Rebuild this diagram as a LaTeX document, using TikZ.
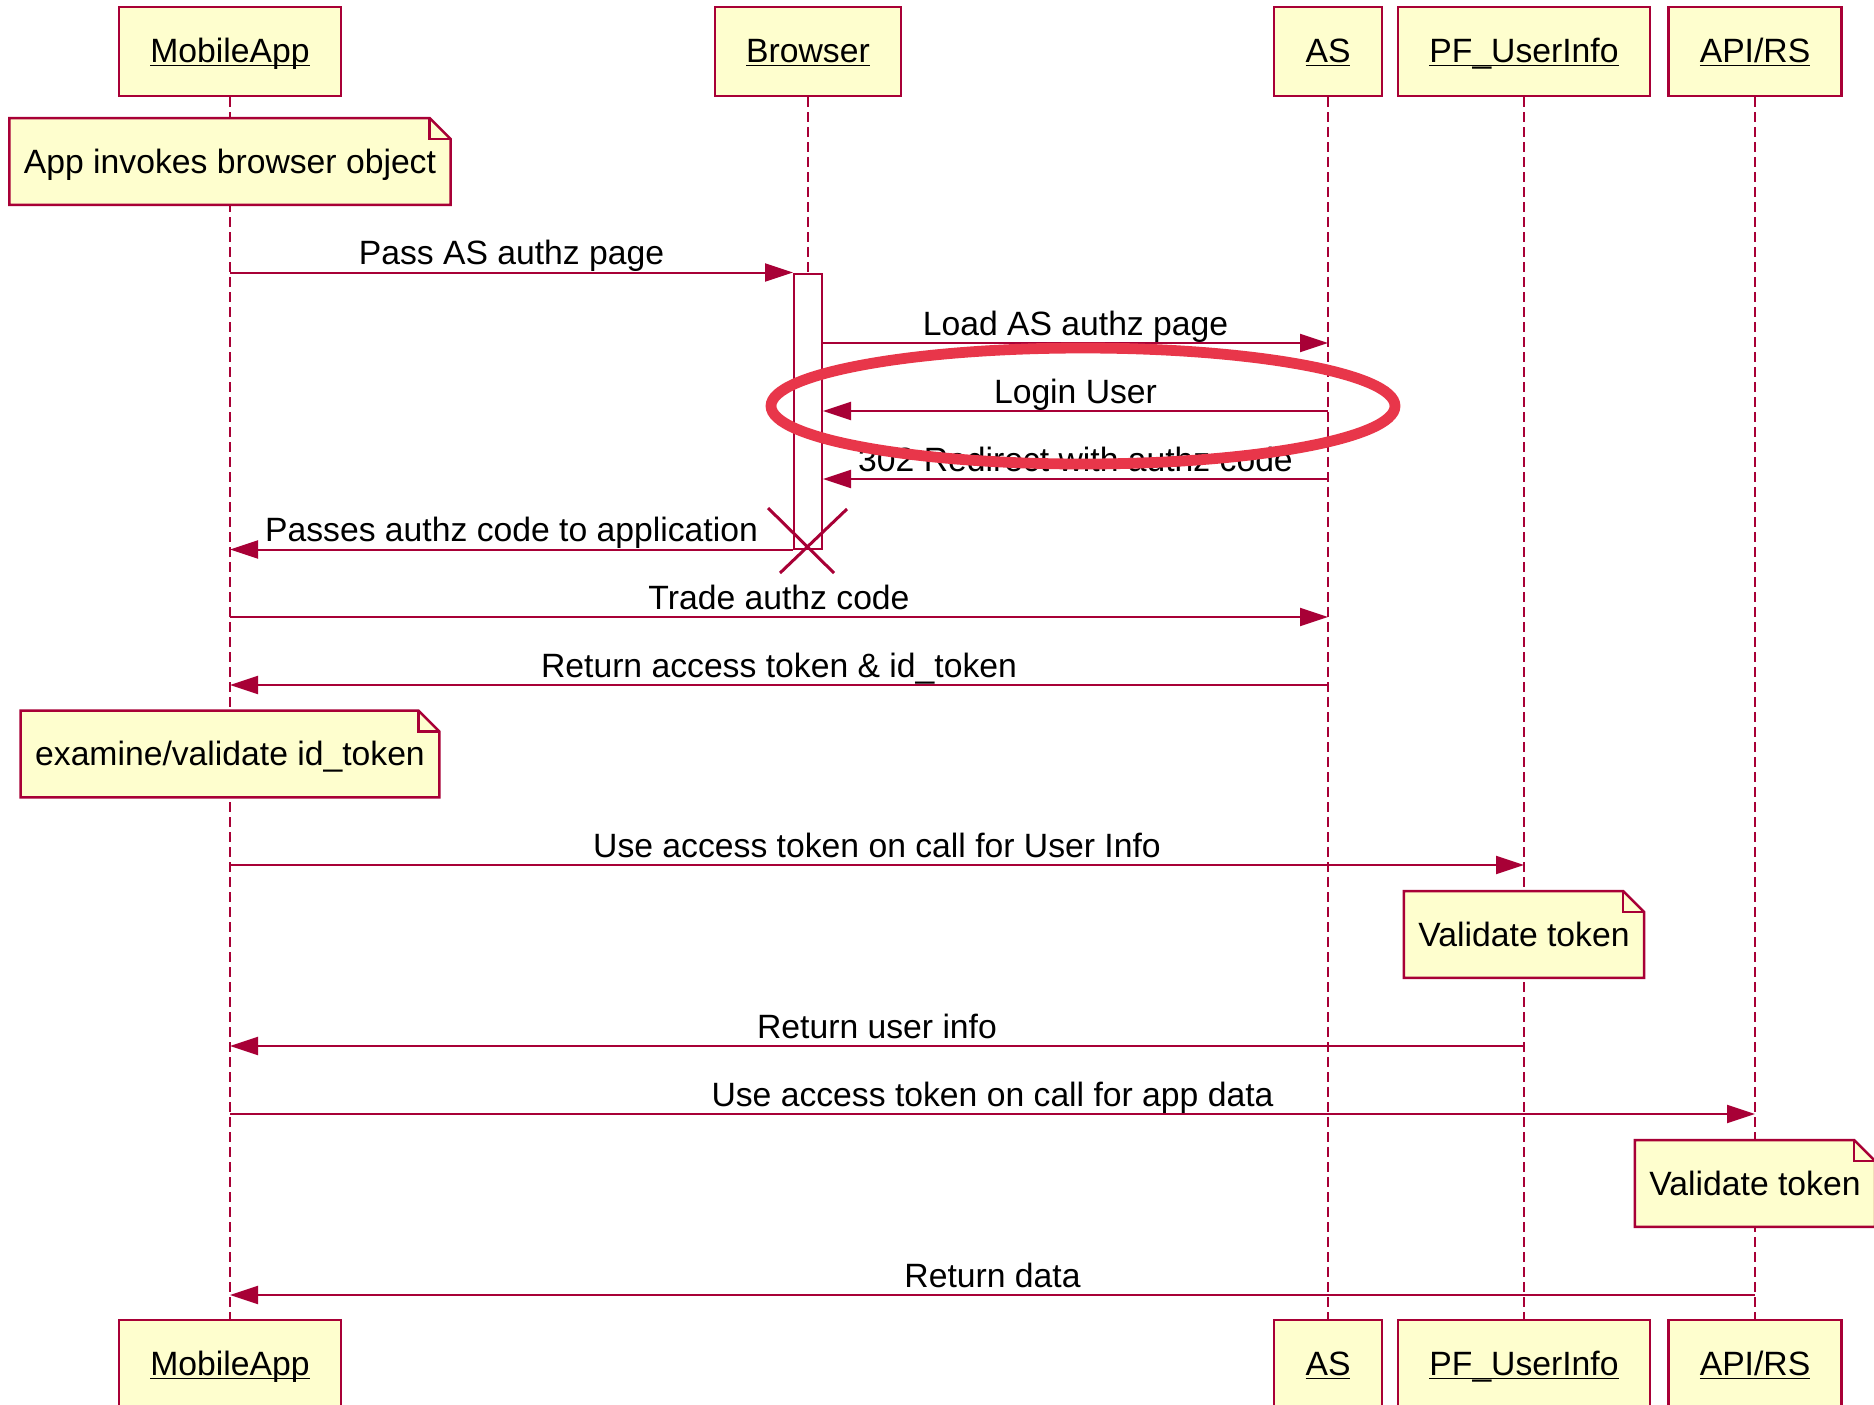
\documentclass[tikz,border=0pt]{standalone}
\usepackage{fontspec}
\setmainfont{Liberation Sans}
\usepackage{xcolor}
\usepackage{tikz}
\usetikzlibrary{
  arrows.meta,
  positioning,
  calc
}
\definecolor{SeqBorder}{HTML}{A80036}
\definecolor{SeqFill}{HTML}{FEFECE}
\definecolor{MarkRed}{HTML}{E8364A}
\newcommand{\ulname}[1]{%
  \setbox0\hbox{#1}\rlap{\rule[-2.2pt]{\wd0}{0.9pt}}\box0}
\tikzset{
  participant/.style={
    draw=SeqBorder,
    fill=SeqFill,
    line width=1.25pt,
    inner xsep=15.7pt,
    inner ysep=0pt,
    text height=12.5pt,
    text depth=2pt,
    minimum height=44.5pt
  },
  lifeline/.style={
    draw=SeqBorder,
    line width=1pt,
    dash pattern=on 5pt off 2.5pt
  },
  note/.style={
    fill=SeqFill,
    inner xsep=7.1pt,
    inner ysep=0pt,
    text height=12.5pt,
    text depth=1pt,
    minimum height=43pt
  },
  noteline/.style={
    draw=SeqBorder,
    line width=1.25pt
  },
  actbar/.style={
    draw=SeqBorder,
    fill=white,
    line width=1pt,
    minimum width=14pt,
    minimum height=137.5pt,
    inner sep=0pt
  },
  message/.style={
    -{Triangle[length=14pt,width=9pt]},
    draw=SeqBorder,
    line width=1pt
  },
  msglabel/.style={
    anchor=base,
    inner sep=0pt,
    yshift=4pt
  },
  destroy/.style={
    draw=SeqBorder,
    line width=1.5pt
  },
  highlight/.style={
    draw=MarkRed,
    line width=5.4pt
  }
}

\begin{document}
\begin{tikzpicture}[
  x=0.5pt,
  y=-0.5pt,
  font=\fontsize{16.85pt}{20pt}\selectfont
]

  \useasboundingbox (0,0) rectangle (1874,1404);

  % participants, top and bottom
  \node[participant] (app) at (230,51.5) {\ulname{MobileApp}};
  \node[participant] (browser) at (808,51.5) {\ulname{Browser}};
  \node[participant] (as) at (1328,51.5) {\ulname{AS}};
  \node[participant] (pf) at (1524,51.5) {\ulname{PF\_UserInfo}};
  \node[participant] (api) at (1755,51.5) {\ulname{API/RS}};

  \node[participant] (appB) at (230,1364.5) {\ulname{MobileApp}};
  \node[participant] (asB) at (1328,1364.5) {\ulname{AS}};
  \node[participant] (pfB) at (1524,1364.5) {\ulname{PF\_UserInfo}};
  \node[participant] (apiB) at (1755,1364.5) {\ulname{API/RS}};

  % lifelines
  \draw[lifeline] (app) -- (appB);
  \draw[lifeline] (as) -- (asB);
  \draw[lifeline] (pf) -- (pfB);
  \draw[lifeline] (api) -- (apiB);
  \coordinate (browserEnd) at (browser |- 0,548);
  \draw[lifeline] (browser) -- (browserEnd);

  % notes
  \node[note] (invoke) at (230,161.5) {App invokes browser object};
  \node[note] (examine) at (230,754) {examine/validate id\_token};
  \node[note] (checkpf) at (1524,934.5) {Validate token};
  \node[note] (checkapi) at (1755,1183.5) {Validate token};

  \foreach \n in {invoke,examine,checkpf,checkapi} {
    \fill[white]
      ([xshift=-10.5pt]\n.north east) -- (\n.north east) --
      ([yshift=-10.5pt]\n.north east) -- cycle;
    \draw[noteline]
      (\n.south west) -- (\n.north west) --
      ([xshift=-10.5pt]\n.north east) --
      ([yshift=-10.5pt]\n.north east) --
      (\n.south east) -- cycle;
    \draw[noteline]
      ([xshift=-10.5pt]\n.north east) |-
      ([yshift=-10.5pt]\n.north east);
  }

  % activation of the browser
  \node[actbar] (act) at (browser |- 0,411) {};

  % messages
  \draw[message]
  (app |- act.north) --
  node[msglabel] {Pass AS authz page}
  (act.north west);

  \draw[message]
  (act.east |- 0,343) --
  node[msglabel] {Load AS authz page}
  (as |- 0,343);

  \draw[message]
  (as |- 0,411) --
  node[msglabel] {Login User}
  (act.east |- 0,411);

  \draw[message]
  (as |- 0,479) --
  node[msglabel] {302 Redirect with authz code}
  (act.east |- 0,479);

  \draw[message]
  (act.south west) --
  node[msglabel] {Passes authz code to application}
  (app |- act.south);

  \draw[destroy] ($(browserEnd)+(-40,-40)$) -- ($(browserEnd)+(26,25)$);
  \draw[destroy] ($(browserEnd)+(39,-39)$) -- ($(browserEnd)+(-28,25)$);

  \draw[message]
  (app |- 0,617) --
  node[msglabel] {Trade authz code}
  (as |- 0,617);

  \draw[message]
  (as |- 0,685) --
  node[msglabel] {Return access token \& id\_token}
  (app |- 0,685);

  \draw[message]
  (app |- 0,865) --
  node[msglabel] {Use access token on call for User Info}
  (pf |- 0,865);

  \draw[message]
  (pf |- 0,1046) --
  node[msglabel] {Return user info}
  (app |- 0,1046);

  \draw[message]
  (app |- 0,1114) --
  node[msglabel] {Use access token on call for app data}
  (api |- 0,1114);

  \draw[message]
  (api |- 0,1295) --
  node[msglabel] {Return data}
  (app |- 0,1295);

  % red mark round the login step
  \draw[highlight] (1083,406) ellipse [x radius=156pt, y radius=29pt];

\end{tikzpicture}
\end{document}
